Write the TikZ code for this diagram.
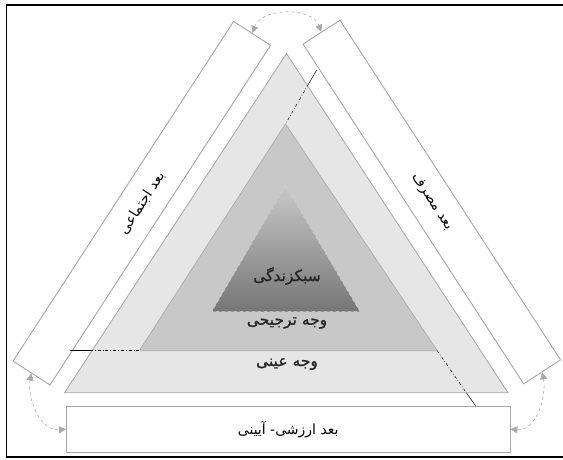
\documentclass[tikz,border=0pt]{standalone}
\usepackage{fontspec}
\newfontfamily\fa[Script=Arabic]{DejaVu Sans}
\newfontfamily\fab[Script=Arabic,FakeBold=1.2]{DejaVu Sans}
\TeXXeTstate=1
\usetikzlibrary{arrows.meta}
\definecolor{outerfill}{HTML}{E6E6E6}
\definecolor{midfill}{HTML}{C8C8C8}
\definecolor{edgegray}{HTML}{A6A6A6}
\definecolor{innertop}{HTML}{C8C8C8}
\definecolor{innerbot}{HTML}{767676}
\definecolor{arrgray}{HTML}{A8A8A8}
\tikzset{
  dimbox/.style={draw=edgegray, fill=white, line width=0.9pt, inner sep=0pt,
                 minimum width=405pt, minimum height=44pt, font=\fa\fontsize{14}{16}\selectfont},
  outertri/.style={draw=edgegray, fill=outerfill, line width=0.8pt},
  midtri/.style={draw=edgegray!90, fill=midfill, line width=0.8pt},
  innertri/.style={draw=innertop!80, dashed, line width=0.5pt, top color=innertop, bottom color=innerbot},
  dimarrow/.style={draw=arrgray, dashed, line width=0.6pt,
                   {Triangle[length=7pt,width=7pt,fill=arrgray]}-{Triangle[length=7pt,width=7pt,fill=arrgray]}},
  extline/.style={draw=black, line width=0.5pt, dash pattern=on 3pt off 2pt on 0.7pt off 2pt},
  extsolid/.style={draw=black, line width=0.5pt},
  lbl/.style={font=\fab\fontsize{15.5}{17}\selectfont, text=black!85, inner sep=0pt}
}
\begin{document}
\begin{tikzpicture}[x=1pt,y=-1pt]
\useasboundingbox (0,0) rectangle (563,459);
% frame
\draw[line width=1.6pt] (566,5) -- (6.5,5) -- (6.5,457) -- (566,457);
% triangles
\coordinate (oA) at (286.5,53.5);
\coordinate (oL) at (64.6,392.7);
\coordinate (oR) at (508,392.7);
\coordinate (mA) at (285.5,124);
\coordinate (mL) at (139.3,350.7);
\coordinate (mR) at (437.3,350.7);
\coordinate (iA) at (285.5,185.7);
\coordinate (iL) at (211.8,311.7);
\coordinate (iR) at (360,311.7);
\path[outertri] (oA) -- (oL) -- (oR) -- cycle;
\path[midtri] (mA) -- (mL) -- (mR) -- cycle;
\path[innertri] (iA) -- (iL) -- (iR) -- cycle;
% labels
\node[lbl] (life) at (287,276) {\beginR سبکزندگی\endR};
\node[lbl] (pref) at (287,323) {\beginR وجه ترجیحی\endR};
\node[lbl] (obj) at (287,364) {\beginR وجه عینی\endR};
% boxes
\node[dimbox, rotate=57] (soc) at (141.8,203.2) {\beginR بعد اجتماعی\endR};
\node[dimbox, rotate=-57] (cons) at (431.8,202) {\beginR بعد مصرف\endR};
\node[dimbox, minimum width=443.5pt, minimum height=46pt] (val) at (288.2,429.2) {\beginR بعد ارزشی- آیینی\endR};
% extension lines
\coordinate (eL) at (70,350.7);
\coordinate (eLs) at (90,350.7);
\coordinate (eT) at (316.7,70);
\coordinate (eTs) at (308.5,84);
\coordinate (eB) at (475.8,406);
\coordinate (eBs) at (466.5,393);
\draw[extsolid] (eL) -- (eLs);
\draw[extline] (eLs) -- (mL);
\draw[extsolid] (eT) -- (eTs);
\draw[extline] (eTs) -- (mA);
\draw[extline] (mR) -- (eBs);
\draw[extsolid] (eBs) -- (eB);
% arrows
\draw[dimarrow] (soc.east) to[out=70,in=110] (cons.west);
\draw[dimarrow] (soc.west) to[out=260,in=185] (val.west);
\draw[dimarrow] (cons.east) to[out=280,in=-5] (val.east);
\end{tikzpicture}
\end{document}
